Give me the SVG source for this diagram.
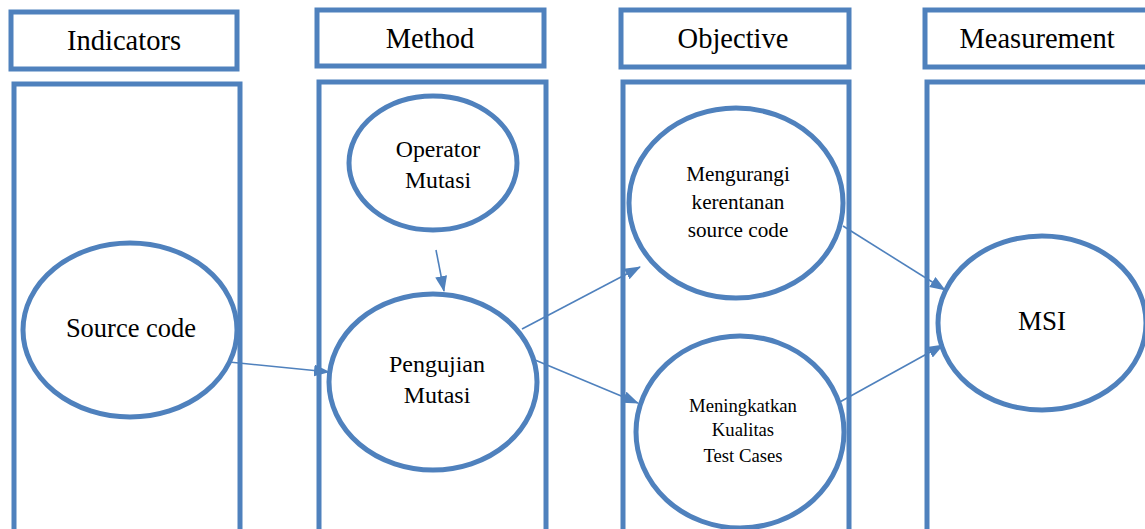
<svg xmlns="http://www.w3.org/2000/svg" width="1145" height="529" viewBox="0 0 1145 529">
<style>
.box{fill:#fff;stroke:#4F81BD;stroke-width:5}
.el{fill:#fff;stroke:#4F81BD;stroke-width:5}
text{font-family:'Liberation Serif','Times New Roman','DejaVu Serif',serif;fill:#000;text-anchor:middle}
.h{font-size:28.5px}
.c{stroke:#4F81BD;stroke-width:1.6;fill:none;marker-end:url(#ah)}
</style>
<defs>
<marker id="ah" markerUnits="userSpaceOnUse" markerWidth="16" markerHeight="12" refX="15" refY="6" orient="auto">
<path d="M0,0 L16,6 L0,12 Z" fill="#4F81BD"/>
</marker>
</defs>
<g id="header-indicators"><rect class="box" x="11" y="12" width="226" height="57"/><text class="h" x="124" y="50">Indicators</text></g>
<g id="header-method"><rect class="box" x="317" y="10" width="227" height="56"/><text class="h" x="430" y="48">Method</text></g>
<g id="header-objective"><rect class="box" x="621" y="10" width="228" height="57"/><text class="h" x="733" y="48">Objective</text></g>
<g id="header-measurement"><rect class="box" x="925" y="10" width="240" height="57"/><text class="h" x="1037" y="48">Measurement</text></g>
<g id="col-indicators"><rect class="box" x="14" y="84" width="226" height="460"/></g>
<g id="col-method"><rect class="box" x="319" y="82" width="227" height="460"/></g>
<g id="col-objective"><rect class="box" x="623" y="82" width="226" height="460"/></g>
<g id="col-measurement"><rect class="box" x="927" y="82" width="240" height="460"/></g>
<g id="source-code"><ellipse class="el" cx="130" cy="330" rx="107" ry="87"/><text x="131" y="337" font-size="26.5">Source code</text></g>
<g id="operator-mutasi"><ellipse class="el" cx="433" cy="163" rx="84" ry="67"/><text x="438" y="157" font-size="23.8">Operator</text><text x="438" y="188" font-size="23.8">Mutasi</text></g>
<g id="pengujian-mutasi"><ellipse class="el" cx="433" cy="382" rx="104" ry="88"/><text x="437" y="372" font-size="24">Pengujian</text><text x="437" y="403" font-size="24">Mutasi</text></g>
<g id="mengurangi"><ellipse class="el" cx="736" cy="203" rx="107" ry="95"/><text x="738" y="181" font-size="21.2">Mengurangi</text><text x="738" y="209" font-size="21.2">kerentanan</text><text x="738" y="237" font-size="21.2">source code</text></g>
<g id="meningkatkan"><ellipse class="el" cx="740" cy="432" rx="104" ry="96"/><text x="743" y="412" font-size="18.7">Meningkatkan</text><text x="743" y="436" font-size="18.7">Kualitas</text><text x="743" y="462" font-size="18.7">Test Cases</text></g>
<g id="msi"><ellipse class="el" cx="1042" cy="323" rx="104" ry="87"/><text x="1042" y="330" font-size="27">MSI</text></g>
<g id="connectors">
<line class="c" x1="229" y1="362" x2="329" y2="372"/>
<line class="c" x1="436" y1="250" x2="444" y2="291"/>
<line class="c" x1="522" y1="329" x2="640" y2="267"/>
<line class="c" x1="535" y1="360" x2="638" y2="403"/>
<line class="c" x1="843" y1="226" x2="945" y2="290"/>
<line class="c" x1="838" y1="403" x2="943" y2="345"/>
</g>
</svg>
